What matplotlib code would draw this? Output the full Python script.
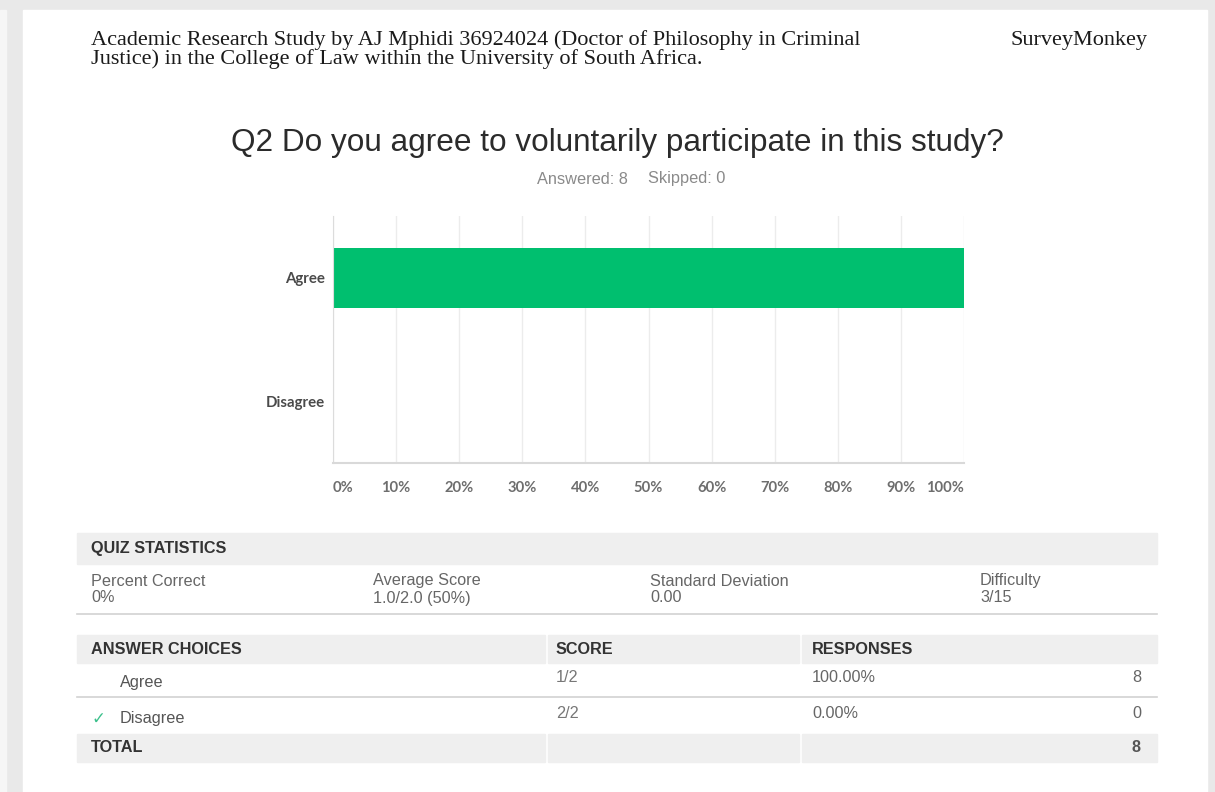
import numpy as np
import matplotlib.pyplot as plt
from matplotlib.patches import Rectangle
from matplotlib.lines import Line2D

W, H = 1215, 792

# --- data ---
choices = ['Agree', 'Disagree']
responses_pct = [100.0, 0.0]
responses_n = [8, 0]
scores = ['1/2', '2/2']
is_correct = [False, True]
answered, skipped = 8, 0
stat_names = ['Percent Correct', 'Average Score', 'Standard Deviation', 'Difficulty']
stat_values = ['0%', '1.0/2.0 (50%)', '0.00', '3/15']
xticks = np.arange(0, 101, 10)

title = 'Q2 Do you agree to voluntarily participate in this study?'
header1 = 'Academic Research Study by AJ Mphidi 36924024 (Doctor of Philosophy in Criminal'
header2 = 'Justice) in the College of Law within the University of South Africa.'

green = '#00bf6f'
band = '#efefef'


def fx(x):
    return x / W


def fy(y):
    return 1 - y / H


fig = plt.figure(figsize=(W / 100, H / 100), dpi=100, facecolor='#e9e9e9')

# white page on grey viewer background
fig.patches.append(Rectangle((fx(23), 0), fx(1207) - fx(23), fy(10),
                             transform=fig.transFigure, color='white', zorder=-10))
fig.patches.append(Rectangle((0, 0), fx(6), fy(10),
                             transform=fig.transFigure, color='#f6f6f6', zorder=-10))

# page header
serif = 'Liberation Serif'
fig.text(fx(91), fy(40), header1, family=serif, fontsize=16, color='#1a1a1a', va='center')
fig.text(fx(91), fy(59), header2, family=serif, fontsize=16, color='#1a1a1a', va='center')
fig.text(fx(1148), fy(40), 'SurveyMonkey', family=serif, fontsize=16, color='#1a1a1a',
         va='center', ha='right')

# question title
fig.text(fx(617), fy(143), title, family='Liberation Sans', fontsize=22.7, color='#2b2b2b',
         ha='center', va='center')
fig.text(fx(628), fy(179), f'Answered: {answered}', family='Liberation Sans', fontsize=11.8,
         color='#8a8a8a', ha='right', va='center')
fig.text(fx(648), fy(179), f'Skipped: {skipped}', family='Liberation Sans', fontsize=11.8,
         color='#8a8a8a', ha='left', va='center')

# bar chart
ax = fig.add_axes([fx(333), fy(463), fx(964) - fx(333), fy(216) - fy(463)])
y = np.arange(len(choices))
ax.barh(y, responses_pct, height=0.485, color=green, zorder=2)
ax.set_xlim(0, 100)
ax.set_ylim(len(choices) - 0.5, -0.5)
ax.set_xticks(xticks)
ax.set_yticks(y)
ax.set_yticklabels(choices, family='Lato', fontweight='bold', fontsize=10.8, color='#4a4a4a')
ax.tick_params(axis='y', length=0, pad=6)
ax.tick_params(axis='x', length=0, pad=13)
ax.set_xticklabels([f'{t}%' for t in xticks], family='Lato', fontweight='bold',
                   fontsize=10.6, color='#6e6e6e')
labs = ax.get_xticklabels()
labs[0].set_horizontalalignment('left')
labs[-1].set_horizontalalignment('right')
ax.grid(axis='x', color='#ececec', linewidth=1, zorder=0)
for s in ['top', 'right']:
    ax.spines[s].set_visible(False)
ax.spines['left'].set_color('#dcdcdc')
ax.spines['bottom'].set_color('#d9d9d9')
ax.spines['bottom'].set_linewidth(1.5)
ax.set_facecolor('white')

# tables
sans = 'Liberation Sans'
tsize = 11.7
L, R = 77, 1157


def band_rect(x0, x1, y0, y1):
    fig.patches.append(Rectangle((fx(x0), fy(y1)), fx(x1) - fx(x0), fy(y0) - fy(y1),
                                 transform=fig.transFigure, color=band, zorder=1))


def hline(yy):
    fig.lines.append(Line2D([fx(L), fx(R)], [fy(yy), fy(yy)], transform=fig.transFigure,
                            color='#d2d2d2', linewidth=1.2, zorder=1))


# quiz statistics
band_rect(L, R, 533, 564)
fig.text(fx(91), fy(549), 'QUIZ STATISTICS', family=sans, fontweight='bold', fontsize=tsize,
         color='#333333', va='center')
stat_x = [91, 373, 650, 980]
for x0, name, val in zip(stat_x, stat_names, stat_values):
    fig.text(fx(x0), fy(581), name, family=sans, fontsize=tsize, color='#666666', va='center')
    fig.text(fx(x0), fy(598), val, family=sans, fontsize=tsize, color='#666666', va='center')
hline(614)

# answer choices
col_edges = [L, 546, 800, R]
for a, b in zip(col_edges[:-1], col_edges[1:]):
    band_rect(a + (0 if a == L else 1.5), b - (0 if b == R else 1.5), 635, 663)
    band_rect(a + (0 if a == L else 1.5), b - (0 if b == R else 1.5), 734, 762)
fig.text(fx(91), fy(649), 'ANSWER CHOICES', family=sans, fontweight='bold', fontsize=tsize,
         color='#333333', va='center')
fig.text(fx(556), fy(649), 'SCORE', family=sans, fontweight='bold', fontsize=tsize,
         color='#333333', va='center')
fig.text(fx(812), fy(649), 'RESPONSES', family=sans, fontweight='bold', fontsize=tsize,
         color='#333333', va='center')

row_y = [682, 718]
for ry, name, sc, pct, n, ok in zip(row_y, choices, scores, responses_pct, responses_n, is_correct):
    if ok:
        fig.text(fx(98), fy(ry + 1), '\u2713', family='DejaVu Sans', fontsize=12,
                 color='#3cc08c', va='center', ha='center')
    fig.text(fx(120), fy(ry), name, family=sans, fontsize=tsize, color='#555555', va='center')
    fig.text(fx(556), fy(ry - 5), sc, family=sans, fontsize=tsize, color='#777777', va='center')
    fig.text(fx(812), fy(ry - 5), f'{pct:.2f}%', family=sans, fontsize=tsize, color='#666666',
             va='center')
    fig.text(fx(1141), fy(ry - 5), str(n), family=sans, fontsize=tsize, color='#666666',
             va='center', ha='right')
hline(697)

fig.text(fx(91), fy(748), 'TOTAL', family=sans, fontweight='bold', fontsize=tsize,
         color='#333333', va='center')
fig.text(fx(1141), fy(748), str(sum(responses_n)), family=sans, fontweight='bold',
         fontsize=tsize, color='#555555', va='center', ha='right')

fig.savefig('out.png', dpi=100, facecolor=fig.get_facecolor())
